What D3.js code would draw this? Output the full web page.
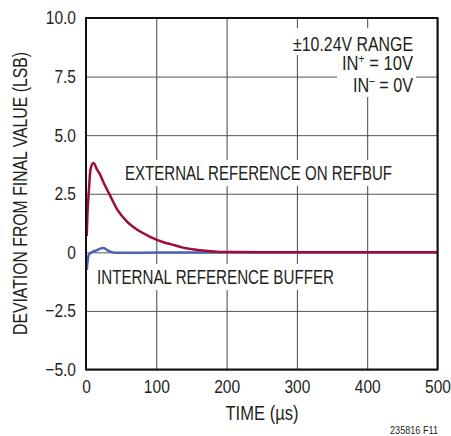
<!DOCTYPE html>
<html>
<head>
<meta charset="utf-8">
<script src="https://cdn.jsdelivr.net/npm/d3@7"></script>
<style>
  body { margin: 0; background: #fff; }
  text { font-family: "Liberation Sans Narrow", "Arial Narrow", "Liberation Sans", sans-serif; fill: #231f20; }
</style>
</head>
<body>
<div id="chart"></div>
<script>
// settling of the conversion result, time in microseconds
var externalTime = [1, 2, 4, 6.5, 10.5, 16, 19, 25, 35, 45, 58, 73, 92, 111, 120, 138, 162, 186, 210, 250, 300, 350, 400, 450, 500];
var externalLsb  = [0.7, 1.6, 2.6, 3.55, 3.81, 3.52, 3.38, 2.98, 2.38, 1.8, 1.32, 0.96, 0.65, 0.42, 0.35, 0.2, 0.09, 0.03, 0.01, 0, 0, 0, 0, 0, 0];

var internalTime = [1, 4, 9, 15, 20, 25, 30, 35, 45, 60, 100, 150, 200, 300, 400, 500];
var internalLsb  = [-0.75, -0.1, 0.02, 0.08, 0.16, 0.18, 0.1, 0.02, -0.02, -0.02, -0.01, -0.01, 0, 0, 0, 0];

var xTicks = [0, 100, 200, 300, 400, 500];
var yTicks = [-5, -2.5, 0, 2.5, 5, 7.5, 10];
var yTickLabels = ["\u22125.0", "\u22122.5", "0", "2.5", "5.0", "7.5", "10.0"];

var width = 451, height = 436;
var plot = { left: 86, right: 437.5, top: 18, bottom: 369.5 };

var svg = d3.select("#chart").append("svg")
  .attr("width", width)
  .attr("height", height);

var x = d3.scaleLinear().domain([0, 500]).range([plot.left, plot.right]);
var y = d3.scaleLinear().domain([-5, 10]).range([plot.bottom, plot.top]);

// no narrow face installed, so squeeze the glyphs
function condense(sel, f) {
  sel.each(function() {
    var w = this.getComputedTextLength();
    d3.select(this).attr("textLength", w * f).attr("lengthAdjust", "spacingAndGlyphs");
  });
}

// grid
svg.append("g")
  .attr("transform", "translate(0," + plot.bottom + ")")
  .call(d3.axisBottom(x).tickValues(xTicks).tickSize(-(plot.bottom - plot.top)).tickFormat(""))
  .call(function(g) {
    g.select(".domain").remove();
    g.selectAll("line").attr("stroke", "#444").attr("stroke-width", 1);
  });

svg.append("g")
  .attr("transform", "translate(" + plot.left + ",0)")
  .call(d3.axisLeft(y).tickValues(yTicks).tickSize(-(plot.right - plot.left)).tickFormat(""))
  .call(function(g) {
    g.select(".domain").remove();
    g.selectAll("line").attr("stroke", "#555").attr("stroke-width", 1);
  });

// tick labels
svg.append("g")
  .attr("transform", "translate(" + plot.left + ",0)")
  .call(d3.axisLeft(y).tickValues(yTicks).tickSize(0).tickPadding(10)
    .tickFormat(function(d, i) { return yTickLabels[i]; }))
  .call(function(g) {
    g.select(".domain").remove();
    g.selectAll("text").attr("font-size", 18.5).attr("font-family", null).attr("fill", "#231f20")
      .call(condense, 0.84);
  });

svg.append("g")
  .attr("transform", "translate(0," + plot.bottom + ")")
  .call(d3.axisBottom(x).tickValues(xTicks).tickSize(0).tickPadding(10))
  .call(function(g) {
    g.select(".domain").remove();
    g.selectAll("text").attr("font-size", 18.5).attr("font-family", null).attr("fill", "#231f20")
      .call(condense, 0.84);
  });

// labels with white backing
function boxedLabel(tx, ty, str, len, anchor) {
  var g = svg.append("g");
  var t = g.append("text")
    .attr("x", tx).attr("y", ty)
    .attr("font-size", 19.5)
    .attr("text-anchor", anchor || "start")
    .attr("textLength", len)
    .attr("lengthAdjust", "spacingAndGlyphs")
    .text(str);
  var b = t.node().getBBox();
  g.insert("rect", "text")
    .attr("x", b.x - 4).attr("y", b.y - 2)
    .attr("width", b.width + 8).attr("height", b.height + 4)
    .attr("fill", "#fff");
  return g;
}

boxedLabel(125, 180, "EXTERNAL REFERENCE ON REFBUF", 267);
boxedLabel(97, 284, "INTERNAL REFERENCE BUFFER", 237);

// condition block
var cond = svg.append("g");
cond.append("rect").attr("x", 290).attr("y", 28).attr("width", 126).attr("height", 27).attr("fill", "#fff");
cond.append("rect").attr("x", 337).attr("y", 55).attr("width", 79).attr("height", 42).attr("fill", "#fff");
cond.append("text")
  .attr("x", 413).attr("y", 51).attr("text-anchor", "end").attr("font-size", 19.5)
  .attr("textLength", 120).attr("lengthAdjust", "spacingAndGlyphs")
  .text("\u00b110.24V RANGE");
var l2 = cond.append("text")
  .attr("x", 413).attr("y", 70).attr("text-anchor", "end").attr("font-size", 19.5)
  .attr("textLength", 71).attr("lengthAdjust", "spacingAndGlyphs");
l2.append("tspan").text("IN");
l2.append("tspan").attr("font-size", 12).attr("dy", -7).text("+");
l2.append("tspan").attr("dy", 7).text(" = 10V");
var l3 = cond.append("text")
  .attr("x", 413).attr("y", 92).attr("text-anchor", "end").attr("font-size", 19.5)
  .attr("textLength", 60).attr("lengthAdjust", "spacingAndGlyphs");
l3.append("tspan").text("IN");
l3.append("tspan").attr("font-size", 12).attr("dy", -7).text("\u2013");
l3.append("tspan").attr("dy", 7).text(" = 0V");

// curves
var line = d3.line()
  .x(function(d) { return x(d[0]); })
  .y(function(d) { return y(d[1]); })
  .curve(d3.curveMonotoneX);

svg.append("path")
  .datum(d3.zip(internalTime, internalLsb))
  .attr("d", line)
  .attr("fill", "none")
  .attr("stroke", "#4a63b5")
  .attr("stroke-width", 2.5);

svg.append("path")
  .datum(d3.zip(externalTime, externalLsb))
  .attr("d", line)
  .attr("fill", "none")
  .attr("stroke", "#9e0b3c")
  .attr("stroke-width", 2.5);

// frame
svg.append("rect")
  .attr("x", plot.left).attr("y", plot.top)
  .attr("width", plot.right - plot.left).attr("height", plot.bottom - plot.top)
  .attr("fill", "none").attr("stroke", "#111").attr("stroke-width", 2);

// axis titles
svg.append("text")
  .attr("x", 262).attr("y", 420)
  .attr("text-anchor", "middle").attr("font-size", 19.5)
  .attr("textLength", 73).attr("lengthAdjust", "spacingAndGlyphs")
  .text("TIME (\u00b5s)");

svg.append("text")
  .attr("transform", "translate(27,193.5) rotate(-90)")
  .attr("text-anchor", "middle").attr("font-size", 19.5)
  .attr("textLength", 283).attr("lengthAdjust", "spacingAndGlyphs")
  .text("DEVIATION FROM FINAL VALUE (LSB)");

svg.append("text")
  .attr("x", 438).attr("y", 434)
  .attr("text-anchor", "end").attr("font-size", 10.5)
  .attr("textLength", 48).attr("lengthAdjust", "spacingAndGlyphs")
  .text("235816 F11");
</script>
</body>
</html>
